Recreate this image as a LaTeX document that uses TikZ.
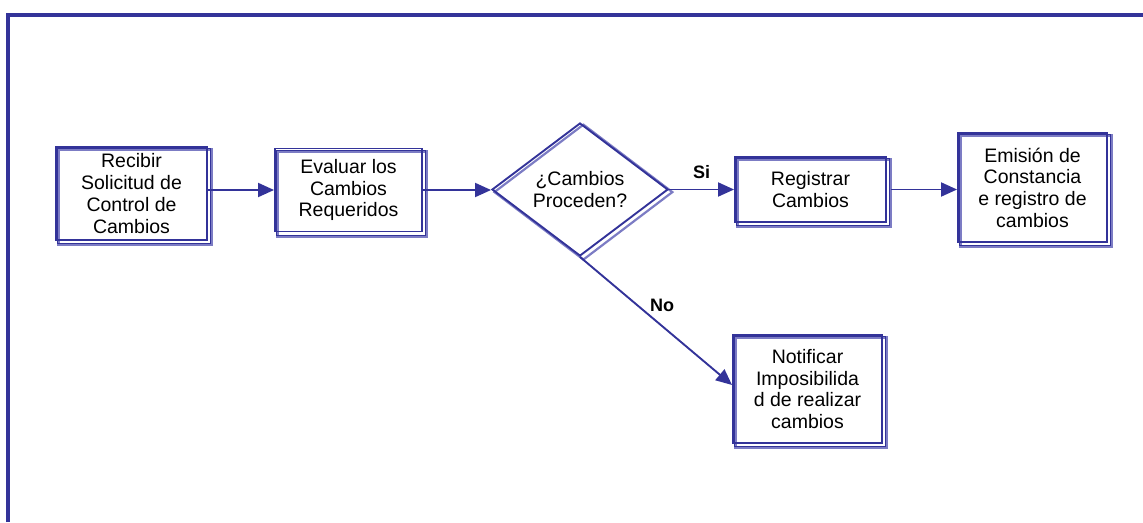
\documentclass[tikz,border=0pt]{standalone}
\usepackage{fontspec}
\setmainfont{Liberation Sans}
\usetikzlibrary{arrows.meta,shapes.geometric}
\pgfdeclarelayer{background}
\pgfsetlayers{background,main}
\definecolor{flow}{HTML}{333399}
\definecolor{flowshade}{HTML}{7C7CC4}
\tikzset{
  box/.style={draw=flow, line width=1.9pt, rectangle, align=center, inner sep=0pt,
    font=\fontsize{19.5}{21.7}\selectfont},
  decision/.style={draw=flow, line width=1.9pt, diamond, align=center, inner sep=0pt,
    minimum width=176pt, minimum height=133pt, aspect=1.32,
    font=\fontsize{19.5}{21.7}\selectfont},
  shadeline/.style={draw=flowshade, line width=3pt},
  shadethin/.style={draw=flow, line width=0.8pt},
  flowarrow/.style={draw=flow, line width=1.9pt, -{Triangle[length=16pt, width=14pt]}},
  lbl/.style={font=\fontsize{18}{20}\selectfont\bfseries, inner sep=0pt},
  frameline/.style={draw=flow, line width=3.2pt}
}
\newcommand{\boxshadow}[1]{%
  \begin{pgfonlayer}{background}
    \draw[shadeline] ([shift={(3.8pt,-3.8pt)}]#1.north west) rectangle ([shift={(3.8pt,-3.8pt)}]#1.south east);
    \draw[shadethin] ([shift={(2.8pt,-2.8pt)}]#1.north west) rectangle ([shift={(2.8pt,-2.8pt)}]#1.south east);
  \end{pgfonlayer}}
\begin{document}
\begin{tikzpicture}[x=1pt, y=-1pt]
  \useasboundingbox (0,0) rectangle (1143,522);
  % outer frame (top and left edges)
  \draw[frameline] (8,522) -- (8,15) -- (1143,15);

  % process steps
  \node[box, minimum width=151pt, minimum height=93pt] (b1) at (131.5,193.5)
    {Recibir\\Solicitud de\\Control de\\Cambios};
  \node[box, minimum width=147pt, minimum height=83pt] (b2) at (348.5,190)
    {Evaluar los\\Cambios\\Requeridos};
  \node[decision] (d) at (580,189.5) {¿Cambios\\Proceden?};
  \node[box, minimum width=151pt, minimum height=65pt] (b3) at (810.5,189.5)
    {Registrar\\Cambios};
  \node[box, minimum width=149pt, minimum height=109pt] (b4) at (1032.5,187.5)
    {Emisión de\\Constancia\\e registro de\\cambios};
  \node[box, minimum width=149pt, minimum height=108pt] (b5) at (807.5,389)
    {Notificar\\Imposibilida\\d de realizar\\cambios};

  % offset shadows
  \boxshadow{b1}
  \boxshadow{b2}
  \boxshadow{b3}
  \boxshadow{b4}
  \boxshadow{b5}
  \begin{pgfonlayer}{background}
    \draw[shadeline, line width=2.2pt] ([shift={(3.4pt,-2.6pt)}]d.north) -- ([shift={(3.4pt,-2.6pt)}]d.east)
      -- ([shift={(3.4pt,-2.6pt)}]d.south) -- ([shift={(3.4pt,-2.6pt)}]d.west) -- cycle;
  \end{pgfonlayer}

  % connectors
  \draw[flowarrow] (b1.east |- b2.west) -- (b2.west);
  \draw[flowarrow] (b2.east) -- (b2.east -| d.west);
  \draw[flowarrow] (d.east) -- node[lbl, above=10pt] (si) {Si} (d.east -| b3.west);
  \draw[flowarrow] ([xshift=3.8pt]b3.east) -- (b3.east -| b4.west);
  \draw[flowarrow] (d.south) -- ([yshift=4pt]b5.west);
  \node[lbl] (no) at (662,305) {No};
\end{tikzpicture}
\end{document}
